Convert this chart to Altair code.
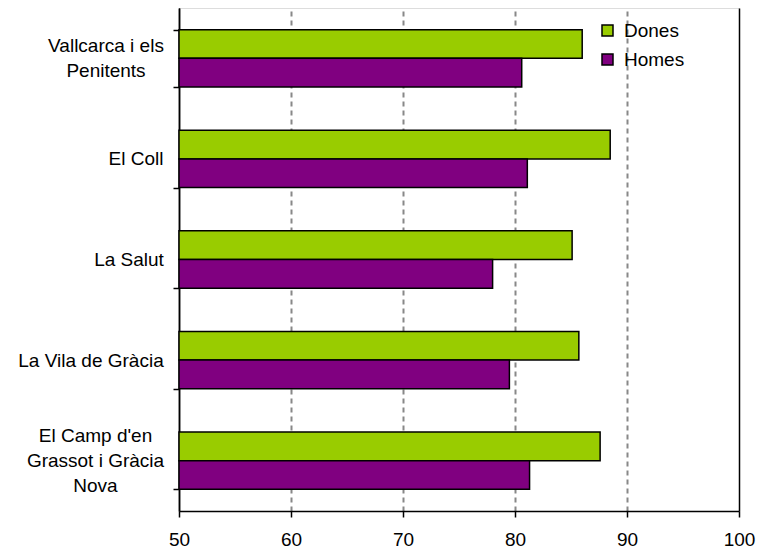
import altair as alt
import pandas as pd

barris = [
    "Vallcarca i els|Penitents",
    "El Coll",
    "La Salut",
    "La Vila de Gràcia",
    "El Camp d'en|Grassot i Gràcia|Nova",
]
sexes = ["Dones", "Homes"]
dones = [86.0, 88.5, 85.1, 85.7, 87.6]
homes = [80.6, 81.1, 78.0, 79.5, 81.3]
x_ticks = [50, 60, 70, 80, 90, 100]
colors = ["#99CC00", "#800080"]

rows = []
for b, d, h in zip(barris, dones, homes):
    rows.append({"barri": b, "sexe": "Dones", "valor": d})
    rows.append({"barri": b, "sexe": "Homes", "valor": h})
df = pd.DataFrame(rows)

FONT = "Liberation Sans"
LH = 25

label_offset = {
    "condition": [
        {"test": "length(split(datum.label, '|')) == 3", "value": -LH},
        {"test": "length(split(datum.label, '|')) == 2", "value": -LH / 2},
    ],
    "value": 0,
}

# label block centres so that every block is right-aligned while its lines stay centred
label_pads = [67.5, 37.5, 44.5, 82.5, 78]
label_padding = {
    "condition": [
        {"test": f"datum.label == {b!r}", "value": p} for b, p in zip(barris, label_pads)
    ],
    "value": 60,
}

edge_test = "datum.value == 100 || datum.value == 50"

chart = (
    alt.Chart(df)
    .mark_bar(stroke="black", strokeWidth=1.5)
    .encode(
        y=alt.Y(
            "barri:N",
            sort=barris,
            scale=alt.Scale(paddingInner=0.43, paddingOuter=0.215),
            axis=alt.Axis(
                title=None,
                labelExpr="split(datum.label, '|')",
                labelAlign="center",
                labelBaseline="middle",
                labelPadding=label_padding,
                labelLineHeight=LH,
                labelOffset=label_offset,
                labelFontSize=19,
                labelFont=FONT,
                labelColor="black",
                tickBand="extent",
                tickSize=6,
                tickColor="black",
                tickWidth=1.5,
                domainColor="black",
                domainWidth=1.5,
                grid=False,
                labelLimit=0,
            ),
        ),
        yOffset=alt.YOffset("sexe:N", sort=sexes, scale=alt.Scale(paddingInner=0, paddingOuter=0)),
        x=alt.X(
            "valor:Q",
            scale=alt.Scale(domain=[50, 100], nice=False, zero=False),
            axis=alt.Axis(
                title=None,
                values=x_ticks,
                labelFontSize=19,
                labelFont=FONT,
                labelColor="black",
                labelPadding=13,
                labelBaseline="top",
                tickSize=6,
                tickColor="black",
                tickWidth=1.5,
                domainColor="black",
                domainWidth=1.5,
                grid=True,
                gridDash={"condition": {"test": edge_test, "value": []}, "value": [5, 4]},
                gridColor={"condition": {"test": edge_test, "value": "black"}, "value": "#888888"},
                gridWidth={"condition": {"test": edge_test, "value": 1.5}, "value": 2},
                labelFlush=False,
            ),
        ),
        x2=alt.datum(50),
        fill=alt.Fill(
            "sexe:N",
            sort=sexes,
            scale=alt.Scale(domain=sexes, range=colors),
            legend=alt.Legend(
                title=None,
                orient="none",
                legendX=419,
                legendY=13,
                symbolType="square",
                symbolSize=121,
                symbolStrokeColor="black",
                symbolStrokeWidth=1.5,
                labelFontSize=19,
                labelFont=FONT,
                labelColor="black",
                labelOffset=7,
                rowPadding=9,
            ),
        ),
    )
    .properties(
        width=560,
        height=503,
        padding={"left": 171, "top": 0, "right": 21, "bottom": 40},
        autosize=alt.AutoSizeParams(type="none"),
    )
    .configure_view(stroke="black", strokeWidth=1.5)
    .configure(background="white")
)

chart.save("out.html", embed_options={"renderer": "svg", "actions": False})
